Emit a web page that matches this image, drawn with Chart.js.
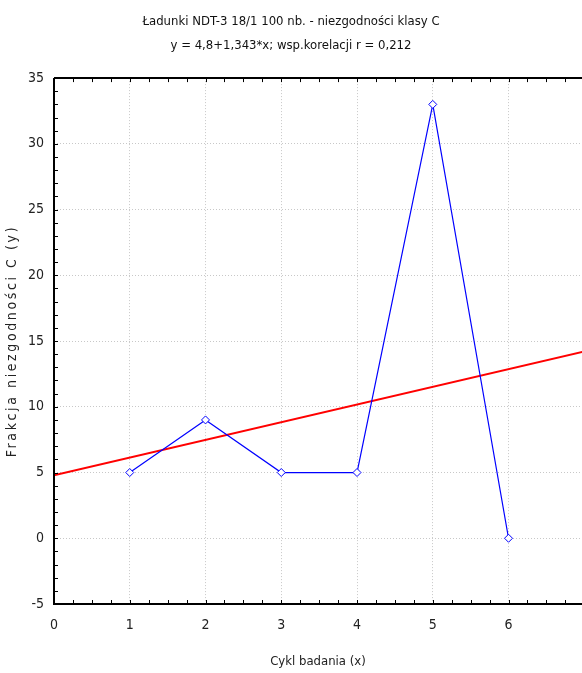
<!DOCTYPE html>
<html>
<head>
<meta charset="utf-8">
<script src="https://cdn.jsdelivr.net/npm/chart.js@4.4.0/dist/chart.umd.min.js"></script>
<style>
  html, body { margin: 0; padding: 0; background: #fff; overflow: hidden; }
  #wrap { width: 582px; height: 673px; }
</style>
</head>
<body>
<div id="wrap"><canvas id="chart"></canvas></div>
<script>
// measured points: cycle (x) vs fraction of class C nonconformities (y)
var cycles = [1, 2, 3, 4, 5, 6];
var fraction = [5, 9, 5, 5, 33, 0];
// fitted line y = 4,8 + 1,343*x, endpoints at the axis limits
var fitX = [0, 7];
var fitY = [4.8, 14.2];
var xTicks = [0, 1, 2, 3, 4, 5, 6];
var yTicks = [-5, 0, 5, 10, 15, 20, 25, 30, 35];

var FONT = "'Liberation Sans Narrow', 'Arial Narrow', 'DejaVu Sans Condensed', Arial, sans-serif";

// axis lines + small inward ticks, like the Statistica look
var frame = {
  id: 'frame',
  afterLayout: function(chart) {
    // spaced-out letters for the y title
    var s = chart.scales.y;
    if (s && !s._spaced) {
      var orig = s.drawTitle;
      s.drawTitle = function() {
        this.ctx.save();
        this.ctx.letterSpacing = '2.6px';
        orig.apply(this, arguments);
        this.ctx.restore();
      };
      s._spaced = true;
    }
  },
  afterDatasetsDraw: function(chart) {
    var ctx = chart.ctx, a = chart.chartArea;
    var xs = chart.scales.x, ys = chart.scales.y;
    ctx.save();
    ctx.strokeStyle = '#000';
    ctx.lineWidth = 1;
    ctx.beginPath();
    for (var v = xs.min; v <= xs.max + 0.001; v += 0.25) {
      var px = Math.round(xs.getPixelForValue(v)) + 0.5;
      ctx.moveTo(px, a.bottom); ctx.lineTo(px, a.bottom - 4);
      ctx.moveTo(px, a.top); ctx.lineTo(px, a.top + 4);
    }
    for (var w = ys.min; w <= ys.max + 0.001; w += 1) {
      var py = Math.round(ys.getPixelForValue(w)) + 0.5;
      ctx.moveTo(a.left, py); ctx.lineTo(a.left + 4, py);
    }
    ctx.stroke();
    ctx.lineWidth = 2;
    ctx.beginPath();
    ctx.moveTo(a.left, a.top); ctx.lineTo(a.left, a.bottom);
    ctx.lineTo(a.right, a.bottom);
    ctx.moveTo(a.left, a.top); ctx.lineTo(a.right, a.top);
    ctx.stroke();
    ctx.restore();
  }
};

var ctx = document.getElementById('chart');
var chart = new Chart(ctx, {
  type: 'scatter',
  data: {
    datasets: [
      {
        label: 'fit',
        data: fitX.map(function(x, i) { return {x: x, y: fitY[i]}; }),
        showLine: true,
        borderColor: '#ff0000',
        borderWidth: 2,
        pointRadius: 0,
        order: 2
      },
      {
        label: 'data',
        data: cycles.map(function(x, i) { return {x: x, y: fraction[i]}; }),
        showLine: true,
        borderColor: '#0000ff',
        borderWidth: 1.2,
        backgroundColor: '#ffffff',
        pointStyle: 'rectRot',
        pointRadius: 4,
        pointBorderWidth: 1,
        order: 1
      }
    ]
  },
  options: {
    responsive: true,
    maintainAspectRatio: false,
    animation: false,
    layout: { padding: 0, autoPadding: false },
    plugins: {
      legend: { display: false },
      tooltip: { enabled: false },
      title: {
        display: true,
        text: ['Ładunki NDT-3 18/1 100 nb. - niezgodności klasy C',
               'y = 4,8+1,343*x; wsp.korelacji r = 0,212'],
        color: '#111',
        font: { family: FONT, size: 13, weight: 'normal', lineHeight: 1.85 },
        padding: { top: 10, bottom: 20 }
      }
    },
    scales: {
      x: {
        type: 'linear',
        min: 0, max: 6.97,
        afterBuildTicks: function(s) { s.ticks = xTicks.map(function(v) { return {value: v}; }); },
        afterFit: function(s) { s.height = 69; s.paddingLeft = 0; s.paddingRight = 0; },
        grid: { color: '#c8c8c8', drawTicks: false, lineWidth: 1 },
        border: { display: false, dash: [1, 2] },
        ticks: { color: '#222', font: { family: FONT, size: 14 }, padding: 13 },
        title: { display: true, text: 'Cykl badania (x)', color: '#222',
                 font: { family: FONT, size: 13 }, padding: { top: 10, bottom: 4 } }
      },
      y: {
        min: -5, max: 35,
        afterBuildTicks: function(s) { s.ticks = yTicks.map(function(v) { return {value: v}; }); },
        afterFit: function(s) { s.width = 54; },
        grid: { color: '#c8c8c8', drawTicks: false, lineWidth: 1 },
        border: { display: false, dash: [1, 2] },
        ticks: { color: '#222', font: { family: FONT, size: 14 }, padding: 10 },
        title: { display: true, text: 'Frakcja niezgodności C (y)', color: '#222',
                 font: { family: FONT, size: 14 }, padding: { top: 4, bottom: 0 } }
      }
    }
  },
  plugins: [frame]
});
</script>
</body>
</html>
